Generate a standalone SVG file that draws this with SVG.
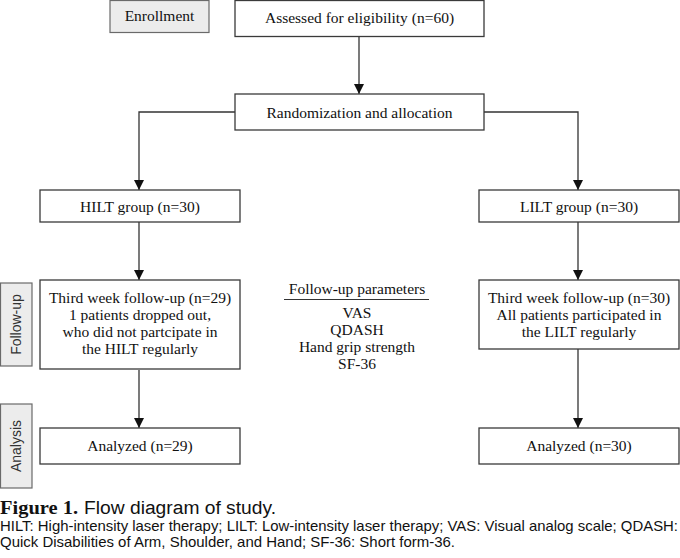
<svg xmlns="http://www.w3.org/2000/svg" width="680" height="558" viewBox="0 0 680 558">
<style>
.box{fill:#fff;stroke:#3a3a3a;stroke-width:1.3}
.side{fill:#ececec;stroke:#6a6a6a;stroke-width:1.2}
.t{font-family:"Liberation Serif","DejaVu Serif",serif;font-size:15.5px;fill:#111;text-anchor:middle}
.s{font-family:"Liberation Sans","DejaVu Sans",sans-serif;font-size:14px;fill:#333;text-anchor:middle}
.ln{fill:none;stroke:#333;stroke-width:1.3}
.cap{font-family:"Liberation Sans","DejaVu Sans",sans-serif;fill:#111}
</style>
<defs>
<marker id="ah" viewBox="0 0 10 12" refX="10" refY="6" markerWidth="10" markerHeight="12" markerUnits="userSpaceOnUse" orient="auto">
<path d="M0,1 L10,6 L0,11 Z" fill="#111"/>
</marker>
</defs>
<rect width="680" height="558" fill="#fff"/>
<g id="connectors">
<line class="ln" x1="359" y1="36" x2="359" y2="94" marker-end="url(#ah)"/>
<polyline class="ln" points="235,112 139,112 139,190" marker-end="url(#ah)"/>
<polyline class="ln" points="484,112 578,112 578,190" marker-end="url(#ah)"/>
<line class="ln" x1="139" y1="222" x2="139" y2="280" marker-end="url(#ah)"/>
<line class="ln" x1="578" y1="222" x2="578" y2="280" marker-end="url(#ah)"/>
<line class="ln" x1="139" y1="370" x2="139" y2="428" marker-end="url(#ah)"/>
<line class="ln" x1="578" y1="349" x2="578" y2="428" marker-end="url(#ah)"/>
</g>
<g id="enrollment">
<rect class="side" x="110" y="0.5" width="99" height="32"/>
<text class="t" x="159.5" y="21" fill="#333">Enrollment</text>
</g>
<g id="assessed">
<rect class="box" x="235" y="0.5" width="249" height="36"/>
<text class="t" x="359.5" y="23">Assessed for eligibility (n=60)</text>
</g>
<g id="randomization">
<rect class="box" x="235" y="94" width="249" height="36"/>
<text class="t" x="359.5" y="118">Randomization and allocation</text>
</g>
<g id="hilt">
<rect class="box" x="40" y="190" width="200" height="32"/>
<text class="t" x="140" y="212">HILT group (n=30)</text>
</g>
<g id="lilt">
<rect class="box" x="479" y="190" width="200" height="32"/>
<text class="t" x="579" y="212">LILT group (n=30)</text>
</g>
<g id="followup-label">
<rect class="side" x="0.5" y="283" width="31.5" height="83"/>
<text class="s" transform="translate(21,324.5) rotate(-90)">Follow-up</text>
</g>
<g id="hilt-followup">
<rect class="box" x="40" y="280" width="200" height="89"/>
<text class="t" x="140" y="303">Third week follow-up (n=29)</text>
<text class="t" x="140" y="320">1 patients dropped out,</text>
<text class="t" x="140" y="337">who did not partcipate in</text>
<text class="t" x="140" y="354">the HILT regularly</text>
</g>
<g id="params">
<text class="t" x="357" y="294">Follow-up parameters</text>
<line x1="284" y1="299.5" x2="429" y2="299.5" stroke="#333" stroke-width="1.2"/>
<text class="t" x="357" y="318">VAS</text>
<text class="t" x="357" y="335">QDASH</text>
<text class="t" x="357" y="352">Hand grip strength</text>
<text class="t" x="357" y="369">SF-36</text>
</g>
<g id="lilt-followup">
<rect class="box" x="479" y="280" width="200" height="69"/>
<text class="t" x="579" y="303">Third week follow-up (n=30)</text>
<text class="t" x="579" y="320">All patients participated in</text>
<text class="t" x="579" y="337">the LILT regularly</text>
</g>
<g id="analysis-label">
<rect class="side" x="0.5" y="404" width="31.5" height="84"/>
<text class="s" transform="translate(21,446) rotate(-90)">Analysis</text>
</g>
<g id="hilt-analyzed">
<rect class="box" x="40" y="428" width="200" height="36"/>
<text class="t" x="140" y="451">Analyzed (n=29)</text>
</g>
<g id="lilt-analyzed">
<rect class="box" x="479" y="428" width="200" height="36"/>
<text class="t" x="579" y="451">Analyzed (n=30)</text>
</g>
<g id="caption">
<text x="0" y="514" font-family="'Liberation Serif','DejaVu Serif',serif" font-weight="bold" font-size="19" fill="#111" textLength="78" lengthAdjust="spacingAndGlyphs">Figure 1.</text>
<text class="cap" x="84" y="514" font-size="18" textLength="192" lengthAdjust="spacingAndGlyphs">Flow diagram of study.</text>
<text class="cap" x="0" y="531" font-size="14.5" textLength="678" lengthAdjust="spacingAndGlyphs">HILT: High-intensity laser therapy; LILT: Low-intensity laser therapy; VAS: Visual analog scale; QDASH:</text>
<text class="cap" x="0" y="547" font-size="14.5" textLength="455" lengthAdjust="spacingAndGlyphs">Quick Disabilities of Arm, Shoulder, and Hand; SF-36: Short form-36.</text>
</g>
</svg>
